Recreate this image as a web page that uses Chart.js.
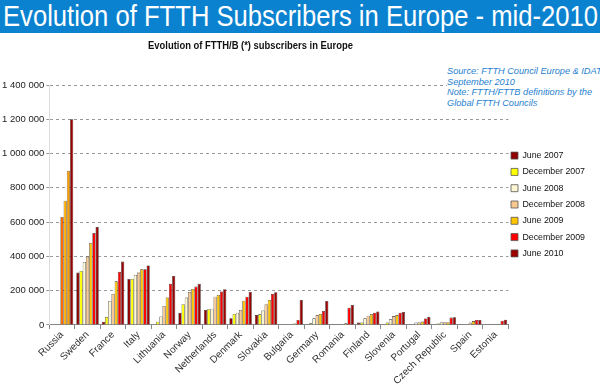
<!DOCTYPE html>
<html>
<head>
<meta charset="utf-8">
<script src="https://cdn.jsdelivr.net/npm/chart.js@4/dist/chart.umd.min.js"></script>
<style>
  html, body { margin: 0; padding: 0; background: #fff; }
  #wrap { position: relative; width: 600px; height: 385px; overflow: hidden; background: #fff; }
  #banner { position: absolute; left: 0; top: 0; width: 600px; height: 33px; background: #0b82cf; overflow: hidden; }
  #bannerText { position: absolute; left: 3px; top: 1px; white-space: nowrap; color: #fff;
    font-family: "Liberation Sans", Arial, sans-serif; font-size: 29px; line-height: 31px; transform-origin: 0 0; }
  #ctitle { position: absolute; left: 148px; top: 38px; white-space: nowrap; color: #111;
    font-family: "Liberation Sans", Arial, sans-serif; font-weight: bold; font-size: 10.5px; line-height: 14px; transform-origin: 0 0; }
  #note { position: absolute; left: 447px; top: 66px; width: 160px; background: #fff; white-space: nowrap;
    font-family: "Liberation Sans", Arial, sans-serif; font-style: italic; font-size: 9.2px; line-height: 10.6px; color: #1f7fd0; }
  canvas { position: absolute; left: 0; top: 0; }
</style>
</head>
<body>
<div id="wrap">
  <canvas id="c" width="600" height="385"></canvas>
  <div id="banner"><div id="bannerText">Evolution of FTTH Subscribers in Europe - mid-2010</div></div>
  <div id="ctitle">Evolution of FTTH/B (*) subscribers in Europe</div>
  <div id="note">Source: FTTH Council Europe &amp; IDATE<br>September 2010<br>Note: FTTH/FTTB definitions by the<br>Global FTTH Councils</div>
</div>
<script>
const categories = ['Russia','Sweden','France','Italy','Lithuania','Norway','Netherlands','Denmark','Slovakia','Bulgaria','Germany','Romania','Finland','Slovenia','Portugal','Czech Republic','Spain','Estonia'];
const seriesNames = ['June 2007','December 2007','June 2008','December 2008','June 2009','December 2009','June 2010'];
const jun2007 = [null,306000,19000,269000,null,72000,88000,39000,58000,null,2000,2000,14000,5000,null,5000,2000,2000];
const dec2007 = [null,315000,47000,269000,19000,121000,92000,64000,62000,null,10000,2000,14000,14000,null,8000,2000,2000];
const jun2008 = [null,368000,140000,292000,50000,160000,95000,72000,84000,null,39000,2000,39000,33000,14000,16000,3000,2000];
const dec2008 = [630000,399000,181000,306000,111000,193000,165000,88000,121000,null,58000,2000,54000,52000,16000,16000,14000,2000];
const jun2009 = [725000,479000,255000,325000,160000,210000,175000,142000,146000,8000,64000,10000,62000,58000,20000,16000,23000,2000];
const dec2009 = [900000,536000,310000,325000,240000,224000,195000,165000,181000,29000,82000,101000,72000,72000,38000,43000,29000,25000];
const jun2010 = [1200000,571000,370000,347000,286000,240000,209000,193000,191000,146000,140000,117000,78000,76000,48000,45000,29000,31000];
const yTicks = [0,200000,400000,600000,800000,1000000,1200000,1400000];

// fit text widths to the reference layout
(function(){
  const el = document.getElementById('bannerText');
  el.style.transform = 'scaleX(' + (595 / el.getBoundingClientRect().width) + ')';
  const t = document.getElementById('ctitle');
  t.style.transform = 'scaleX(' + (205 / t.getBoundingClientRect().width) + ')';
})();

const colors = ['#8f0000','#ffff00','#fdf6d2','#f8c890','#ffc400','#ff0000','#9a0000'];
const russiaColors = [null,null,null,'#ff6a00','#ffae00','#ffa000',null];
const allData = [jun2007,dec2007,jun2008,dec2008,jun2009,dec2009,jun2010];

const datasets = allData.map((d,i)=>({
  label: seriesNames[i],
  data: d,
  backgroundColor: (ctx) => (ctx.type === 'data' && ctx.dataIndex === 0 && russiaColors[i]) ? russiaColors[i] : colors[i],
  borderColor: '#2a2a2a',
  borderWidth: 0.6,
  categoryPercentage: 0.88,
  barPercentage: 1.0
}));

const fmt = v => String(v).replace(/\B(?=(\d{3})+(?!\d))/g, ' ');

new Chart(document.getElementById('c'), {
  type: 'bar',
  data: { labels: categories, datasets },
  options: {
    responsive: false,
    animation: false,
    layout: { padding: { left: 0, right: 0, top: 85, bottom: -2 } },
    plugins: {
      title: { display: false },
      legend: {
        position: 'right',
        align: 'center',
        labels: {
          boxWidth: 7, boxHeight: 7, padding: 7.5, color: '#111',
          font: { family: '"Liberation Sans", Arial, sans-serif', size: 8.8 },
          generateLabels: (chart) => chart.data.datasets.map((ds, i) => ({
            text: ds.label,
            fillStyle: colors[i],
            strokeStyle: '#555',
            lineWidth: 0.8,
            hidden: false,
            datasetIndex: i,
            fontColor: '#111'
          }))
        }
      },
      tooltip: { enabled: false }
    },
    scales: {
      x: {
        grid: { display: true, drawOnChartArea: false, offset: true, tickLength: 4, color: '#888' },
        border: { display: true, color: '#888', width: 1 },
        ticks: {
          autoSkip: false, maxRotation: 45, minRotation: 45, padding: 0, color: '#333',
          font: { family: '"Liberation Sans", Arial, sans-serif', size: 10 }
        }
      },
      y: {
        min: 0, max: 1400000,
        afterBuildTicks: (axis) => { axis.ticks = yTicks.map(v => ({ value: v })); },
        grid: { color: '#999', tickLength: 3, lineWidth: 1 },
        border: { display: true, color: '#ddd', dash: [3, 3] },
        ticks: {
          padding: 2, color: '#222',
          font: { family: '"Liberation Sans", Arial, sans-serif', size: 9.5 },
          callback: v => fmt(v)
        }
      }
    }
  },
  plugins: [{
    id: 'legendShift',
    afterUpdate(chart) {
      const lg = chart.legend;
      const legMid = (lg.top + lg.bottom) / 2;
      const shift = 204.5 - legMid;
      lg.top += shift; lg.bottom += shift;
      lg.left -= 5; lg.right -= 5;
      if (lg.legendHitBoxes) lg.legendHitBoxes.forEach(h => { h.top += shift; h.left -= 5; });
    }
  }]
});
</script>
</body>
</html>
